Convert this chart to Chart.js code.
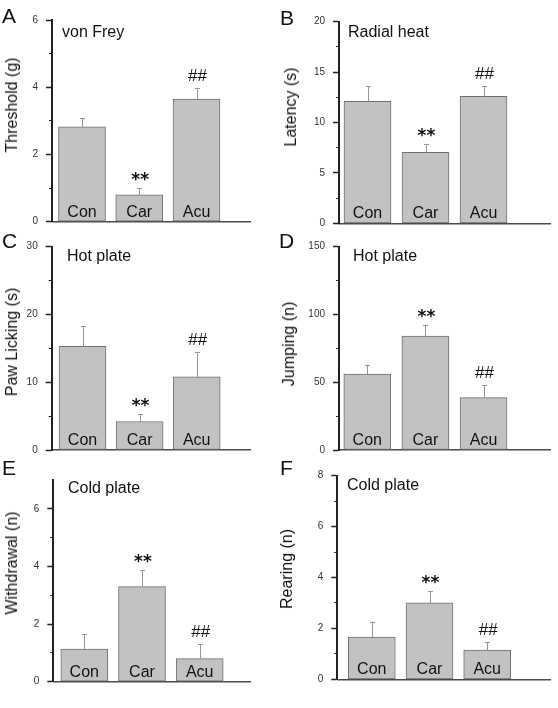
<!DOCTYPE html>
<html><head><meta charset="utf-8">
<script src="https://cdn.jsdelivr.net/npm/chart.js@4/dist/chart.umd.min.js"></script>
<style>
html,body{margin:0;padding:0;background:#fff;}
body{width:558px;height:708px;position:relative;overflow:hidden;font-family:"Liberation Sans",Arial,sans-serif;color:#111;}
canvas{position:absolute;}
.t{position:absolute;white-space:nowrap;line-height:1;}
.letter{font-size:21px;}
.test{font-size:16px;}
.ytitle{font-size:16px;transform:translate(-50%,-50%) rotate(-90deg);}
</style></head><body>
<script>
// ---- data ----
const categories = ['Con', 'Car', 'Acu'];
const marks = ['', '**', '##'];

const thresholdMean = [2.82, 0.80, 3.65];
const thresholdSem  = [0.27, 0.20, 0.32];
const thresholdTicks = [0, 2, 4, 6];

const latencyMean = [12.1, 7.05, 12.6];
const latencySem  = [1.5, 0.8, 1.0];
const latencyTicks = [0, 5, 10, 15, 20];

const lickingMean = [15.3, 4.2, 10.8];
const lickingSem  = [3.0, 1.1, 3.6];
const lickingTicks = [0, 10, 20, 30];

const jumpingMean = [56, 84, 38.6];
const jumpingSem  = [7, 8.5, 9.4];
const jumpingTicks = [0, 50, 100, 150];

const withdrawalMean = [1.13, 3.3, 0.8];
const withdrawalSem  = [0.51, 0.57, 0.5];
const withdrawalTicks = [0, 2, 4, 6];

const rearingMean = [1.66, 3.0, 1.15];
const rearingSem  = [0.61, 0.45, 0.32];
const rearingTicks = [0, 2, 4, 6, 8];

// ---- panel layout ----
const panels = [
  {letter:'A', test:'von Frey', title:'Threshold (g)', mean:thresholdMean, sem:thresholdSem, ticks:thresholdTicks, max:6,
   box:{L:0, W:262, axisX:52, xRight:250, yTop:20, yZero:221.7, c1:82, c3:196.5}, letterPos:[2,23], testPos:[62,38], titlePos:[12,105]},
  {letter:'B', test:'Radial heat', title:'Latency (s)', mean:latencyMean, sem:latencySem, ticks:latencyTicks, max:20,
   box:{L:272, W:286, axisX:339, xRight:550, yTop:21.7, yZero:223.3, c1:367.5, c3:483.5}, letterPos:[280,25], testPos:[348,38], titlePos:[290.5,107]},
  {letter:'C', test:'Hot plate', title:'Paw Licking (s)', mean:lickingMean, sem:lickingSem, ticks:lickingTicks, max:30,
   box:{L:0, W:262, axisX:51.7, xRight:250, yTop:246.7, yZero:450, c1:82.5, c3:196.7}, letterPos:[2,248], testPos:[67,262], titlePos:[12,342]},
  {letter:'D', test:'Hot plate', title:'Jumping (n)', mean:jumpingMean, sem:jumpingSem, ticks:jumpingTicks, max:150,
   box:{L:272, W:286, axisX:339, xRight:550, yTop:246.7, yZero:450, c1:367.3, c3:483.5}, letterPos:[279,248], testPos:[353,262], titlePos:[289,344]},
  {letter:'E', test:'Cold plate', title:'Withdrawal (n)', mean:withdrawalMean, sem:withdrawalSem, ticks:withdrawalTicks, max:7,
   box:{L:0, W:262, axisX:53.3, xRight:250, yTop:480, yZero:681.7, c1:84.3, c3:199.7}, letterPos:[2,475], testPos:[68,494], titlePos:[12,563]},
  {letter:'F', test:'Cold plate', title:'Rearing (n)', mean:rearingMean, sem:rearingSem, ticks:rearingTicks, max:8,
   box:{L:272, W:286, axisX:337.3, xRight:550, yTop:475.7, yZero:679.3, c1:371.8, c3:487.2}, letterPos:[280,475], testPos:[347,491], titlePos:[287,569]}
];

const FONT = '"Liberation Sans", Arial, sans-serif';

function addText(cls, txt, left, baseline, size){
  const d = document.createElement('div');
  d.className = 't ' + cls;
  d.textContent = txt;
  d.style.left = left + 'px';
  d.style.top = (baseline - 0.8465 * size) + 'px';
  document.body.appendChild(d);
}
function addTitle(txt, cx, cy){
  const d = document.createElement('div');
  d.className = 't ytitle';
  d.textContent = txt;
  d.style.left = cx + 'px';
  d.style.top = cy + 'px';
  document.body.appendChild(d);
}

function overlayPlugin(p){
  return {
    id: 'overlay',
    afterDatasetsDraw(chart){
      const ctx = chart.ctx, ys = chart.scales.y, meta = chart.getDatasetMeta(0);
      const y0 = ys.getPixelForValue(0);
      ctx.save();
      meta.data.forEach((bar, i) => {
        const top = ys.getPixelForValue(p.mean[i] + p.sem[i]);
        const bx = Math.round(bar.x) + 0.5;
        ctx.strokeStyle = '#959595';
        ctx.lineWidth = 1;
        ctx.beginPath();
        ctx.moveTo(bx, bar.y);
        ctx.lineTo(bx, top);
        ctx.moveTo(bx - 2.5, Math.round(top) + 0.5);
        ctx.lineTo(bx + 2.5, Math.round(top) + 0.5);
        ctx.stroke();
        ctx.fillStyle = '#111';
        ctx.textAlign = 'center';
        ctx.textBaseline = 'alphabetic';
        ctx.font = '16px ' + FONT;
        ctx.fillText(categories[i], bar.x, y0 - 5);
        if (marks[i]) {
          ctx.font = marks[i] === '**' ? 'bold 17px "DejaVu Sans", sans-serif' : '17px ' + FONT;
          const m = ctx.measureText(marks[i]);
          ctx.fillText(marks[i], bar.x + 1, top - 7 - m.actualBoundingBoxDescent);
        }
      });
      ctx.restore();
    }
  };
}

panels.forEach(p => {
  const b = p.box;
  const T = Math.floor(b.yTop - 18);
  const H = Math.ceil(b.yZero + 18 - T);
  const cv = document.createElement('canvas');
  cv.width = b.W; cv.height = H;
  cv.style.left = b.L + 'px'; cv.style.top = T + 'px';
  cv.style.width = b.W + 'px'; cv.style.height = H + 'px';
  document.body.appendChild(cv);

  addText('letter', p.letter, p.letterPos[0], p.letterPos[1], 21);
  addText('test', p.test, p.testPos[0], p.testPos[1], 16);
  addTitle(p.title, p.titlePos[0], p.titlePos[1]);

  const s = (b.c3 - b.c1) / 2;
  const xmin = 1 - (b.c1 - b.axisX) / s;
  const xmax = 3 + (b.xRight - b.c3) / s;
  const step = p.ticks[1] - p.ticks[0];

  new Chart(cv, {
    type: 'bar',
    data: {
      datasets: [{
        data: p.mean.map((v, i) => ({x: i + 1, y: v})),
        backgroundColor: '#c2c2c2',
        borderColor: '#6f6f6f',
        borderWidth: 1,
        borderSkipped: false,
        barThickness: 47
      }]
    },
    options: {
      responsive: false,
      animation: false,
      events: [],
      layout: {padding: {left: 0, right: b.L + b.W - b.xRight, top: b.yTop - T, bottom: T + H - b.yZero}},
      plugins: {legend: {display: false}, tooltip: {enabled: false}},
      scales: {
        x: {
          type: 'linear', min: xmin, max: xmax, offset: false,
          grid: {display: false, drawTicks: false},
          ticks: {display: false},
          border: {display: true, color: '#4a4a4a', width: 1.5},
          afterFit: sc => { sc.height = 0; }
        },
        y: {
          type: 'linear', position: 'left', weight: 1, min: 0, max: p.max,
          ticks: {stepSize: step, includeBounds: false, padding: 8, color: '#333', font: {family: FONT, size: 10}},
          afterBuildTicks: sc => { sc.ticks = p.ticks.map(v => ({value: v})); },
          grid: {drawOnChartArea: false, drawTicks: true, tickLength: 6, tickWidth: 1.5, tickColor: '#222'},
          border: {display: true, color: '#222', width: 2},
          afterFit: sc => { sc.width = b.axisX - b.L; }
        },
        ym: {
          type: 'linear', position: 'left', weight: 0, min: 0, max: p.max,
          ticks: {display: false, stepSize: step / 2, includeBounds: false},
          afterBuildTicks: sc => {
            sc.ticks = sc.ticks.filter(t => {
              const r = t.value / step;
              return Math.abs(r - Math.round(r)) > 1e-6 && t.value < p.max;
            });
          },
          grid: {drawOnChartArea: false, drawTicks: true, tickLength: 3, tickWidth: 1, tickColor: '#222'},
          border: {display: false},
          afterFit: sc => { sc.width = 0; }
        }
      }
    },
    plugins: [overlayPlugin(p)]
  });
});
</script>
</body></html>
